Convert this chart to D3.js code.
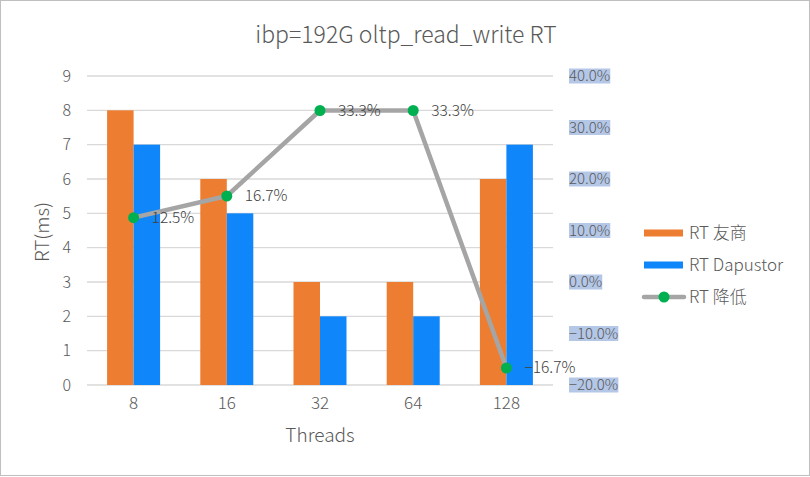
<!DOCTYPE html>
<html><head><meta charset="utf-8">
<script src="https://cdn.jsdelivr.net/npm/d3@7"></script>
<style>
body{margin:0;background:#fff;}
text{font-family:"Noto Sans CJK SC","Liberation Sans",sans-serif;font-weight:300;}
</style></head>
<body><svg id="c" width="810" height="477"></svg>
<script>
const categories = ["8","16","32","64","128"];
const rtYoushang = [8,6,3,3,6];
const rtDapustor = [7,5,2,2,7];
const rtReduce = [0.125,0.167,0.333,0.333,-0.167];
const leftTicks = [0,1,2,3,4,5,6,7,8,9];
const rightTicks = [-0.2,-0.1,0,0.1,0.2,0.3,0.4];
const seriesNames = ["RT 友商","RT Dapustor","RT 降低"];

const svg = d3.select("#c");
const W=810,H=477;
const m={l:87,r:553,t:76,b:385};
svg.append("rect").attr("x",0.5).attr("y",0.5).attr("width",W-1).attr("height",H-2).attr("fill","#fff").attr("stroke","#bfbfbf");

const x = d3.scaleBand().domain(categories).range([m.l,m.r]);
const y = d3.scaleLinear().domain([0,9]).range([m.b,m.t]);
const y2 = d3.scaleLinear().domain([-0.2,0.4]).range([m.b,m.t]);
const bw = 26.5;

// grid
svg.append("g").selectAll("line").data(leftTicks).join("line")
 .attr("x1",m.l).attr("x2",m.r).attr("y1",d=>y(d)).attr("y2",d=>y(d))
 .attr("stroke","#d9d9d9").attr("stroke-width",1.3);

// left tick labels
svg.append("g").selectAll("text").data(leftTicks).join("text")
 .attr("x",71).attr("y",d=>y(d)).attr("dy","0.35em").attr("text-anchor","end")
 .attr("font-size",16).attr("fill","#595959").text(d=>d);

// right tick labels with highlight
const rg = svg.append("g");
rightTicks.forEach(t=>{
  const tx = rg.append("text").attr("x",569).attr("y",y2(t)).attr("dy","0.35em")
   .attr("font-size",15).attr("fill","#595959").text(d3.format(".1%")(t));
  const bb = tx.node().getBBox();
  rg.insert("rect","text").attr("x",bb.x).attr("y",y2(t)-7.5).attr("width",bb.width).attr("height",15).attr("fill","#b4c7e7");
});

// bars
svg.append("g").selectAll("rect").data(categories).join("rect")
 .attr("x",d=>x(d)+x.bandwidth()/2-bw).attr("width",bw)
 .attr("y",(d,i)=>y(rtYoushang[i])).attr("height",(d,i)=>y(0)-y(rtYoushang[i]))
 .attr("fill","#ed7d31");
svg.append("g").selectAll("rect").data(categories).join("rect")
 .attr("x",d=>x(d)+x.bandwidth()/2).attr("width",bw)
 .attr("y",(d,i)=>y(rtDapustor[i])).attr("height",(d,i)=>y(0)-y(rtDapustor[i]))
 .attr("fill","#0f87fa");

// x labels
svg.append("g").selectAll("text").data(categories).join("text")
 .attr("x",d=>x(d)+x.bandwidth()/2).attr("y",407).attr("dy","0.1em").attr("text-anchor","middle")
 .attr("font-size",17).attr("fill","#595959").text(d=>d);

// line
const cx = (d,i)=>x(categories[i])+x.bandwidth()/2;
const line = d3.line().x((d,i)=>cx(d,i)).y(d=>y2(d));
svg.append("path").datum(rtReduce).attr("d",line).attr("fill","none")
 .attr("stroke","#a5a5a5").attr("stroke-width",4.5).attr("stroke-linejoin","round");
svg.append("g").selectAll("circle").data(rtReduce).join("circle")
 .attr("cx",cx).attr("cy",d=>y2(d)).attr("r",5.5).attr("fill","#00b050");
svg.append("g").selectAll("text").data(rtReduce).join("text")
 .attr("x",(d,i)=>cx(d,i)+18).attr("y",d=>y2(d)).attr("dy","0.35em")
 .attr("font-size",15.5).attr("fill","#404040").text(d=>d3.format(".1%")(d));

// titles
svg.append("text").attr("x",406).attr("y",35).attr("dy","0.35em").attr("text-anchor","middle")
 .attr("font-size",23).attr("fill","#595959").text("ibp=192G oltp_read_write RT");
svg.append("text").attr("x",320).attr("y",435).attr("dy","0.35em").attr("text-anchor","middle")
 .attr("font-size",19).attr("fill","#595959").text("Threads");
svg.append("text").attr("transform","translate(42,232) rotate(-90)").attr("dy","0.35em").attr("text-anchor","middle")
 .attr("font-size",19).attr("fill","#595959").text("RT(ms)");

// legend
const lg = svg.append("g");
const ly=[233,265,297];
lg.append("rect").attr("x",644).attr("y",ly[0]-3.5).attr("width",39).attr("height",7).attr("fill","#ed7d31");
lg.append("rect").attr("x",644).attr("y",ly[1]-3.5).attr("width",39).attr("height",7).attr("fill","#0f87fa");
lg.append("line").attr("x1",644).attr("x2",684).attr("y1",ly[2]).attr("y2",ly[2]).attr("stroke","#a5a5a5").attr("stroke-width",4.5).attr("stroke-linecap","round");
lg.append("circle").attr("cx",664).attr("cy",ly[2]).attr("r",5.5).attr("fill","#00b050");
seriesNames.forEach((s,i)=>{
  lg.append("text").attr("x",689).attr("y",ly[i]).attr("dy","0.35em").attr("font-size",17).attr("fill","#595959").text(s);
});
</script></body></html>
